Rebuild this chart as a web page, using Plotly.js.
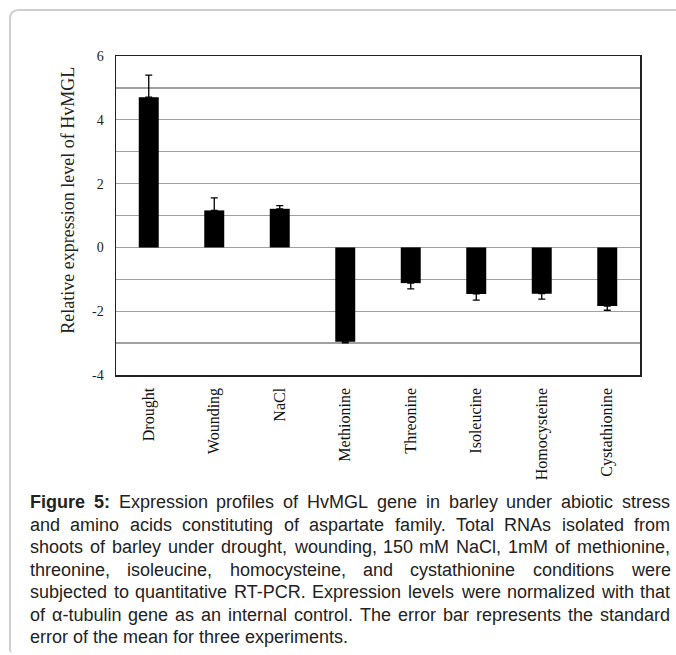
<!DOCTYPE html>
<html>
<head>
<meta charset="utf-8">
<script src="https://cdn.plot.ly/plotly-3.0.1.min.js"></script>
<style>
html,body{margin:0;padding:0;background:#fff;}
#wrap{position:relative;width:676px;height:655px;overflow:hidden;}
#frame{position:absolute;left:9px;top:9px;width:720px;height:642px;border-top:2px solid #cfcfcf;border-left:2px solid #cfcfcf;border-top-left-radius:9px;border-bottom-left-radius:4px;}
#chart{position:absolute;left:0;top:0;width:676px;height:655px;}
</style>
</head>
<body>
<div id="wrap"><div id="frame"></div><div id="chart"></div></div>
<script>
const categories = ["Drought","Wounding","NaCl","Methionine","Threonine","Isoleucine","Homocysteine","Cystathionine"];
const values = [4.71, 1.16, 1.21, -2.96, -1.12, -1.46, -1.45, -1.84];
const errors = [0.69, 0.39, 0.10, 0.03, 0.18, 0.19, 0.17, 0.13];
const yTickVals = [-4, -2, 0, 2, 4, 6];
const yTickText = ["-4", "-2", "0", "2", "4", "6"];
const yTitle = "Relative expression level of HvMGL";
const captionBold = "Figure 5:";
const captionLines = [
  "Figure 5: Expression profiles of HvMGL gene in barley under abiotic stress",
  "and amino acids constituting of aspartate family. Total RNAs isolated from",
  "shoots of barley under drought, wounding, 150 mM NaCl, 1mM of methionine,",
  "threonine, isoleucine, homocysteine, and cystathionine conditions were",
  "subjected to quantitative RT-PCR. Expression levels were normalized with that",
  "of α-tubulin gene as an internal control. The error bar represents the standard",
  "error of the mean for three experiments."
];

const W = 676, H = 655;
const L = 116, R = 640, T = 56, B = 375.5;
const px2x = p => (p - L) / (R - L);
const px2y = p => (B - p) / (B - T);

const errPlus = values.map((v, i) => v >= 0 ? errors[i] : 0);
const errMinus = values.map((v, i) => v < 0 ? errors[i] : 0);

const serif = "Liberation Serif, Times New Roman, serif";
const sansName = "Liberation Sans";
const capSize = 18;

const annotations = [{
  text: yTitle, xref: "paper", yref: "paper", x: px2x(68), y: px2y(201),
  textangle: -90, showarrow: false, xanchor: "center", yanchor: "middle",
  font: {family: serif, size: 18, color: "#222"}
}];

// justified caption: place words individually
const ctx = document.createElement("canvas").getContext("2d");
const capLeft = 29, capRight = 669;
const boldWords = captionBold.split(" ");
captionLines.forEach((line, li) => {
  const words = line.split(" ");
  const info = words.map((w, wi) => {
    const bold = li === 0 && wi < boldWords.length;
    ctx.font = (bold ? "bold " : "") + capSize + "px '" + sansName + "'";
    return {w, bold, width: ctx.measureText(w).width};
  });
  const total = info.reduce((s, o) => s + o.width, 0);
  const last = li === captionLines.length - 1;
  ctx.font = capSize + "px '" + sansName + "'";
  const gap = last ? ctx.measureText(" ").width : (capRight - capLeft - total) / (words.length - 1);
  let x = capLeft;
  info.forEach(o => {
    annotations.push({
      text: o.bold ? "<b>" + o.w + "</b>" : o.w,
      xref: "paper", yref: "paper", x: px2x(x), y: px2y(503 + li * 22.5),
      showarrow: false, xanchor: "left", yanchor: "middle", borderpad: 0,
      font: {family: sansName + ", Arial, sans-serif", size: capSize, color: "#222"}
    });
    x += o.width + gap;
  });
});

Plotly.newPlot("chart", [{
  type: "bar", x: categories, y: values,
  marker: {color: "#000", line: {width: 0}},
  error_y: {type: "data", symmetric: false, array: errPlus, arrayminus: errMinus,
            color: "#000", thickness: 1.3, width: 3.5},
  hoverinfo: "none"
}], {
  width: W, height: H,
  margin: {l: L, r: W - R, t: T, b: H - B, pad: 0},
  paper_bgcolor: "rgba(0,0,0,0)", plot_bgcolor: "#fff",
  showlegend: false,
  bargap: 0.695,
  xaxis: {
    type: "category", tickangle: -90, showgrid: false, zeroline: false,
    showline: true, mirror: true, linecolor: "#222", linewidth: 1.5,
    ticks: "", tickfont: {family: serif, size: 16, color: "#111"},
    ticklabelstandoff: 5
  },
  yaxis: {
    range: [-4, 6], tickvals: yTickVals, ticktext: yTickText, ticks: "",
    showgrid: true, gridcolor: "#a0a0a0", gridwidth: 1.3,
    minor: {dtick: 1, showgrid: true, gridcolor: "#a0a0a0", gridwidth: 1.3},
    zeroline: false, showline: true, mirror: true, linecolor: "#222", linewidth: 1.5,
    tickfont: {family: serif, size: 14, color: "#222"}, ticklabelstandoff: 8
  },
  annotations: annotations
}, {staticPlot: true});
</script>
</body>
</html>
